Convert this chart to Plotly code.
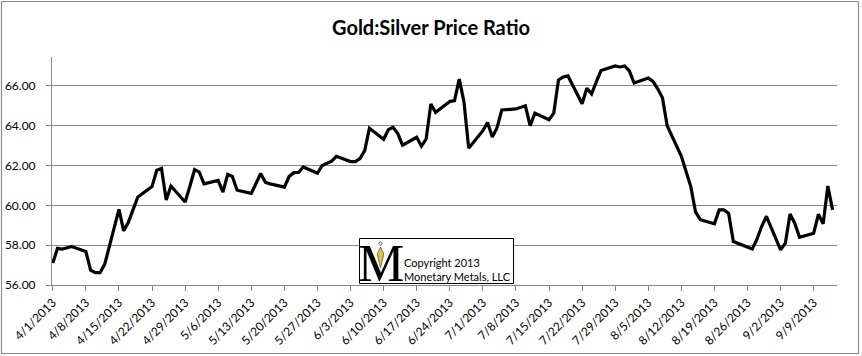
import pandas as pd
import plotly.graph_objects as go

# ---------------- data ----------------
trade_dates = pd.bdate_range("2013-04-01", "2013-09-13")

ratio = [
    57.10, 57.84, 57.80, 57.86, 57.93,   # 4/1 - 4/5
    57.68, 56.75, 56.62, 56.62, 57.05,   # 4/8 - 4/12
    59.80, 58.72, 59.15, 59.80, 60.42,   # 4/15 - 4/19
    60.94, 61.76, 61.85, 60.27, 60.97,   # 4/22 - 4/26
    60.17, 60.95, 61.80, 61.67, 61.08,   # 4/29 - 5/3
    61.25, 60.66, 61.55, 61.45, 60.76,   # 5/6 - 5/10
    60.60, 61.10, 61.60, 61.15, 61.08,   # 5/13 - 5/17
    60.92, 61.45, 61.64, 61.65, 61.93,   # 5/20 - 5/24
    61.61, 62.00, 62.12, 62.22, 62.46,   # 5/27 - 5/31
    62.20, 62.20, 62.35, 62.75, 63.87,   # 6/3 - 6/7
    63.32, 63.80, 63.92, 63.60, 63.02,   # 6/10 - 6/14
    63.42, 62.97, 63.33, 65.09, 64.67,   # 6/17 - 6/21
    65.21, 65.26, 66.34, 65.20, 62.87,   # 6/24 - 6/28
    63.75, 64.16, 63.43, 63.90, 64.79,   # 7/1 - 7/5
    64.84, 64.93, 65.00, 64.00, 64.63,   # 7/8 - 7/12
    64.30, 64.63, 66.30, 66.45, 66.50,   # 7/15 - 7/19
    65.10, 65.88, 65.60, 66.20, 66.77,   # 7/22 - 7/26
    67.00, 66.95, 67.00, 66.75, 66.14,   # 7/29 - 8/2
    66.39, 66.22, 65.85, 65.40, 64.00,   # 8/5 - 8/9
    62.46, 61.70, 60.94, 59.67, 59.28,   # 8/12 - 8/16
    59.07, 59.77, 59.77, 59.60, 58.18,   # 8/19 - 8/23
    57.87, 57.81, 58.30, 58.95, 59.45,   # 8/26 - 8/30
    57.76, 58.10, 59.57, 59.10, 58.40,   # 9/2 - 9/6
    58.60, 59.55, 59.07, 60.97, 59.77,   # 9/9 - 9/13
]

x_tick_dates = ["2013-04-01", "2013-04-08", "2013-04-15", "2013-04-22", "2013-04-29",
                "2013-05-06", "2013-05-13", "2013-05-20", "2013-05-27", "2013-06-03",
                "2013-06-10", "2013-06-17", "2013-06-24", "2013-07-01", "2013-07-08",
                "2013-07-15", "2013-07-22", "2013-07-29", "2013-08-05", "2013-08-12",
                "2013-08-19", "2013-08-26", "2013-09-02", "2013-09-09"]
x_tick_labels = ["4/1/2013", "4/8/2013", "4/15/2013", "4/22/2013", "4/29/2013",
                 "5/6/2013", "5/13/2013", "5/20/2013", "5/27/2013", "6/3/2013",
                 "6/10/2013", "6/17/2013", "6/24/2013", "7/1/2013", "7/8/2013",
                 "7/15/2013", "7/22/2013", "7/29/2013", "8/5/2013", "8/12/2013",
                 "8/19/2013", "8/26/2013", "9/2/2013", "9/9/2013"]

y_tick_values = [56, 58, 60, 62, 64, 66]
y_tick_labels = ["56.00", "58.00", "60.00", "62.00", "64.00", "66.00"]

title_text = "Gold:Silver Price Ratio"
copyright_lines = ["Copyright 2013", "Monetary Metals, LLC"]

# ---------------- layout helpers ----------------
W, H = 862, 356
ML, MR, MT, MB = 52, 25, 57, 71
PW, PH = W - ML - MR, H - MT - MB


def px(xp):
    return (xp - ML) / PW


def py(yp):
    return (H - MB - yp) / PH


fig = go.Figure()
fig.add_trace(go.Scatter(
    x=trade_dates, y=ratio, mode="lines",
    line=dict(color="black", width=3.2),
    hoverinfo="x+y", showlegend=False,
))

font_main = "Lato, Calibri, Carlito, sans-serif"
grey = "#878787"

fig.update_layout(
    width=W, height=H,
    margin=dict(l=ML, r=MR, t=MT, b=MB, autoexpand=False),
    paper_bgcolor="white", plot_bgcolor="white",
    title=dict(text="<b>" + title_text + "</b>", x=0.5, xanchor="center",
               y=1 - 28 / H, yanchor="middle",
               font=dict(family=font_main, size=20, color="black")),
    xaxis=dict(
        type="date", automargin=False,
        range=["2013-03-31 20:00", "2013-09-13 22:24"],
        tickmode="array", tickvals=x_tick_dates, ticktext=x_tick_labels,
        tickangle=-45,
        showgrid=False, zeroline=False,
        showline=True, linecolor=grey, linewidth=1,
        ticks="outside", ticklen=5, tickcolor=grey, tickwidth=1,
        tickfont=dict(family=font_main, size=12, color="black"),
    ),
    yaxis=dict(
        automargin=False,
        range=[56, 67.45],
        tickmode="array", tickvals=y_tick_values, ticktext=y_tick_labels,
        showgrid=True, gridcolor=grey, gridwidth=1,
        zeroline=False,
        showline=True, linecolor=grey, linewidth=1,
        ticks="outside", ticklen=5, tickcolor=grey, tickwidth=1,
        ticklabelstandoff=8,
        tickfont=dict(family=font_main, size=12, color="black"),
    ),
)

shapes = []
# outer chart border
shapes.append(dict(type="rect", xref="paper", yref="paper",
                   x0=px(1.5), x1=px(858.5), y0=py(353.5), y1=py(1.5),
                   line=dict(color="#8c8c8c", width=1.2), layer="above"))
# logo box
shapes.append(dict(type="rect", xref="paper", yref="paper",
                   x0=px(359.5), x1=px(513.5), y0=py(283.5), y1=py(238.5),
                   fillcolor="white", line=dict(color="black", width=1), layer="above"))
fig.update_layout(shapes=shapes)

annotations = [
    dict(text="M", xref="paper", yref="paper", x=px(381), y=py(263),
         xanchor="center", yanchor="middle", showarrow=False,
         font=dict(family="Liberation Serif, DejaVu Serif, serif", size=52, color="black")),
    dict(text=copyright_lines[0], xref="paper", yref="paper", x=px(402), y=py(262),
         xanchor="left", yanchor="middle", showarrow=False,
         font=dict(family=font_main, size=11, color="black")),
    dict(text=copyright_lines[1], xref="paper", yref="paper", x=px(402), y=py(276),
         xanchor="left", yanchor="middle", showarrow=False,
         font=dict(family=font_main, size=11, color="black")),
]
fig.update_layout(annotations=annotations)

# gold pendant of the logo
kite = [(380.5, 247), (377.2, 254), (380.5, 268), (383.8, 254)]
path = "M " + " L ".join(f"{px(a):.5f},{py(b):.5f}" for a, b in kite) + " Z"
fig.add_shape(type="path", xref="paper", yref="paper", path=path,
              fillcolor="#e3c04a", line=dict(color="#6b5a1c", width=0.8), layer="above")
diamond = [(380.5, 241.5), (378.8, 243.5), (380.5, 245.5), (382.2, 243.5)]
path2 = "M " + " L ".join(f"{px(a):.5f},{py(b):.5f}" for a, b in diamond) + " Z"
fig.add_shape(type="path", xref="paper", yref="paper", path=path2,
              fillcolor="white", line=dict(color="#333", width=0.8), layer="above")

fig.write_html("out.html", config={"displayModeBar": False},
               post_script="document.body.style.margin='0';document.body.style.padding='0';")
